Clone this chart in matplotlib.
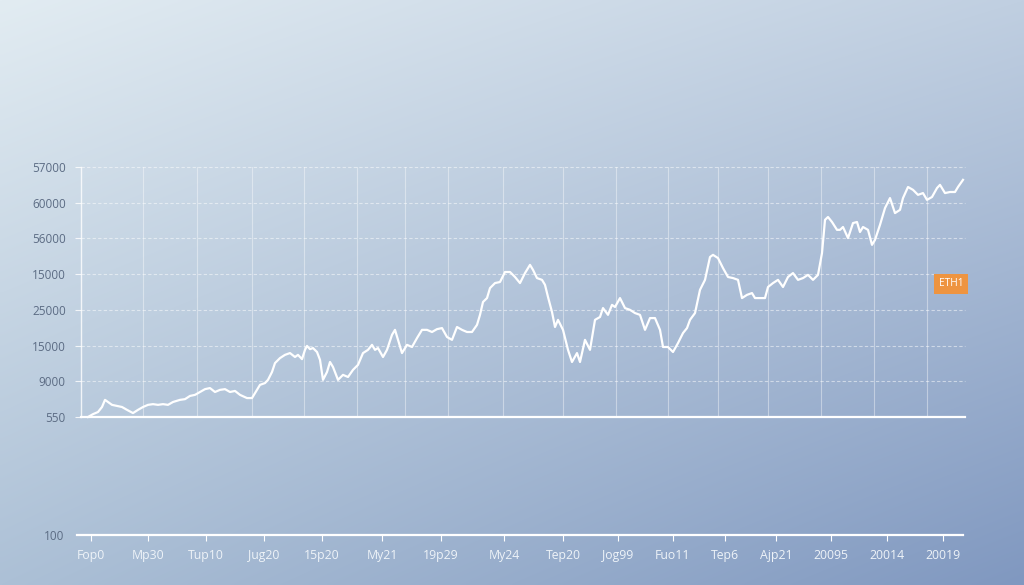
import numpy as np
import matplotlib
matplotlib.use("Agg")
import matplotlib.pyplot as plt

plt.rcParams['font.family'] = ['Open Sans', 'DejaVu Sans']

# price line (t = time step, v = level in grid units)
t = [7, 12, 17, 21, 24, 27, 31, 36, 41, 46, 52, 57, 62, 67, 72, 77, 82, 87, 92, 99,
     104, 109, 114, 119, 124, 129, 134, 139, 144, 149, 154, 159, 166, 171, 174, 179, 184, 187, 191, 194,
     199, 204, 209, 214, 217, 221, 224, 226, 229, 232, 236, 239, 242, 246, 249, 252, 257, 262, 267, 272,
     277, 282, 287, 291, 294, 297, 302, 306, 311, 314, 317, 321, 326, 331, 336, 341, 346, 351, 356, 361,
     366, 371, 376, 381, 386, 391, 396, 399, 402, 406, 409, 414, 419, 424, 429, 434, 439, 444, 449, 452,
     456, 461, 464, 467, 471, 474, 477, 482, 487, 491, 496, 499, 504, 509, 514, 519, 522, 527, 531, 534,
     539, 544, 549, 554, 559, 564, 569, 574, 579, 582, 587, 592, 597, 602, 606, 609, 614, 619, 624, 629,
     632, 637, 642, 647, 652, 657, 661, 666, 671, 674, 679, 684, 687, 692, 697, 702, 707, 712, 717, 722,
     727, 732, 737, 741, 744, 747, 751, 756, 759, 762, 767, 772, 776, 779, 782, 787, 791, 794, 799, 804,
     809, 814, 819, 822, 827, 832, 837, 842, 846, 851, 856, 859, 864, 869, 874, 877, 882]
v = [0.00, 0.08, 0.14, 0.28, 0.48, 0.42, 0.34, 0.31, 0.28, 0.20, 0.11, 0.20, 0.28, 0.34, 0.36, 0.34, 0.36, 0.34, 0.42, 0.48,
     0.50, 0.59, 0.62, 0.70, 0.78, 0.81, 0.70, 0.76, 0.78, 0.70, 0.73, 0.62, 0.53, 0.53, 0.67, 0.90, 0.95, 1.04, 1.26, 1.51,
     1.65, 1.74, 1.79, 1.68, 1.74, 1.62, 1.88, 1.99, 1.90, 1.93, 1.82, 1.60, 1.04, 1.26, 1.54, 1.40, 1.04, 1.18, 1.12, 1.32,
     1.46, 1.79, 1.88, 2.02, 1.88, 1.93, 1.68, 1.88, 2.30, 2.44, 2.16, 1.79, 2.02, 1.96, 2.21, 2.44, 2.44, 2.38, 2.46, 2.49,
     2.24, 2.16, 2.52, 2.44, 2.38, 2.38, 2.58, 2.86, 3.22, 3.33, 3.61, 3.75, 3.78, 4.06, 4.06, 3.92, 3.75, 4.03, 4.26, 4.12,
     3.89, 3.84, 3.70, 3.36, 2.94, 2.52, 2.72, 2.44, 1.88, 1.54, 1.79, 1.54, 2.16, 1.88, 2.72, 2.80, 3.05, 2.86, 3.14, 3.08,
     3.33, 3.05, 3.00, 2.91, 2.86, 2.44, 2.77, 2.77, 2.44, 1.96, 1.96, 1.82, 2.07, 2.35, 2.49, 2.72, 2.91, 3.56, 3.84, 4.48,
     4.54, 4.45, 4.17, 3.92, 3.89, 3.84, 3.33, 3.42, 3.47, 3.33, 3.33, 3.33, 3.64, 3.75, 3.84, 3.64, 3.92, 4.03, 3.84, 3.89,
     3.98, 3.84, 3.98, 4.59, 5.52, 5.60, 5.46, 5.24, 5.24, 5.32, 5.01, 5.43, 5.46, 5.18, 5.32, 5.24, 4.82, 4.96, 5.38, 5.85,
     6.13, 5.71, 5.80, 6.13, 6.44, 6.36, 6.22, 6.27, 6.08, 6.16, 6.41, 6.50, 6.27, 6.30, 6.30, 6.44, 6.64]

y_labels = ['550', '9000', '15000', '25000', '15000', '56000', '60000', '57000']
x_labels = ['Fop0', 'Mp30', 'Tup10', 'Jug20', '15p20', 'My21', '19p29', 'My24',
            'Tep20', 'Jog99', 'Fuo11', 'Tep6', 'Ajp21', '20095', '20014', '20019']
x_ticks = [14, 71, 129, 187, 245, 305, 364, 427, 486, 541, 596, 648, 699, 754, 810, 866]
v_grid = [62, 116, 171, 223, 276, 324, 367, 422, 482, 535, 587, 637, 687, 740, 793, 846]

W, H = 1024, 585
fig = plt.figure(figsize=(W / 100, H / 100), dpi=100)

# background gradient (bilinear between four corner colours)
bg = fig.add_axes([0, 0, 1, 1], zorder=-10)
c_tl = np.array([226, 236, 242]) / 255
c_tr = np.array([192, 207, 225]) / 255
c_bl = np.array([172, 192, 214]) / 255
c_br = np.array([128, 152, 192]) / 255
gx, gy = np.meshgrid(np.linspace(0, 1, 256), np.linspace(0, 1, 256))
img = (c_tl[None, None] * ((1 - gx) * (1 - gy))[..., None] + c_tr[None, None] * (gx * (1 - gy))[..., None]
       + c_bl[None, None] * ((1 - gx) * gy)[..., None] + c_br[None, None] * (gx * gy)[..., None])
bg.imshow(img, aspect='auto', extent=[0, 1, 0, 1], interpolation='bilinear')
bg.axis('off')

# main chart
ax = fig.add_axes([81 / W, 1 - 417 / H, 884 / W, 250 / H])
ax.set_facecolor('none')
ax.set_xlim(0, 884)
ax.set_ylim(0, 7)
for gy_ in range(1, 8):
    ax.axhline(gy_, color='white', lw=0.8, ls=(0, (3, 2)), alpha=0.5, clip_on=False)
for gx_ in v_grid:
    ax.axvline(gx_, color='white', lw=0.8, alpha=0.4)
ax.plot(t, v, color='white', lw=1.6, solid_joinstyle='round', clip_on=False, zorder=5)
for s in ['top', 'right']:
    ax.spines[s].set_visible(False)
ax.spines['left'].set_color((1, 1, 1, 0.8))
ax.spines['left'].set_linewidth(1.0)
ax.spines['bottom'].set_color('white')
ax.spines['bottom'].set_linewidth(1.6)
ax.set_yticks(range(8))
ax.set_yticklabels(y_labels, color='#5c6c84', fontsize=8.5)
ax.tick_params(axis='y', length=4, color=(1, 1, 1, 0.8), pad=7)
ax.set_xticks([])
ax.text(0.998, 3.73, 'ETH1', transform=ax.get_yaxis_transform(), ha='right', va='center',
        fontsize=7.3, color='white',
        bbox=dict(boxstyle='square,pad=0.45', fc='#ee9440', ec='none'))

# bottom time axis
bx = fig.add_axes([77 / W, 1 - 535 / H, 886 / W, 0.001])
bx.set_facecolor('none')
bx.set_xlim(0, 886)
bx.set_ylim(0, 1)
for s in ['top', 'right', 'left']:
    bx.spines[s].set_visible(False)
bx.spines['bottom'].set_color('white')
bx.spines['bottom'].set_linewidth(1.6)
bx.set_xticks(x_ticks)
bx.set_xticklabels(x_labels, color='#eef3f8', fontsize=8.8)
bx.tick_params(axis='x', length=4, color='white', pad=6)
bx.set_yticks([0])
bx.set_yticklabels(['100'], color='#5c6c84', fontsize=8.5)
bx.tick_params(axis='y', length=0, pad=9)

fig.savefig('out.png', dpi=100)
